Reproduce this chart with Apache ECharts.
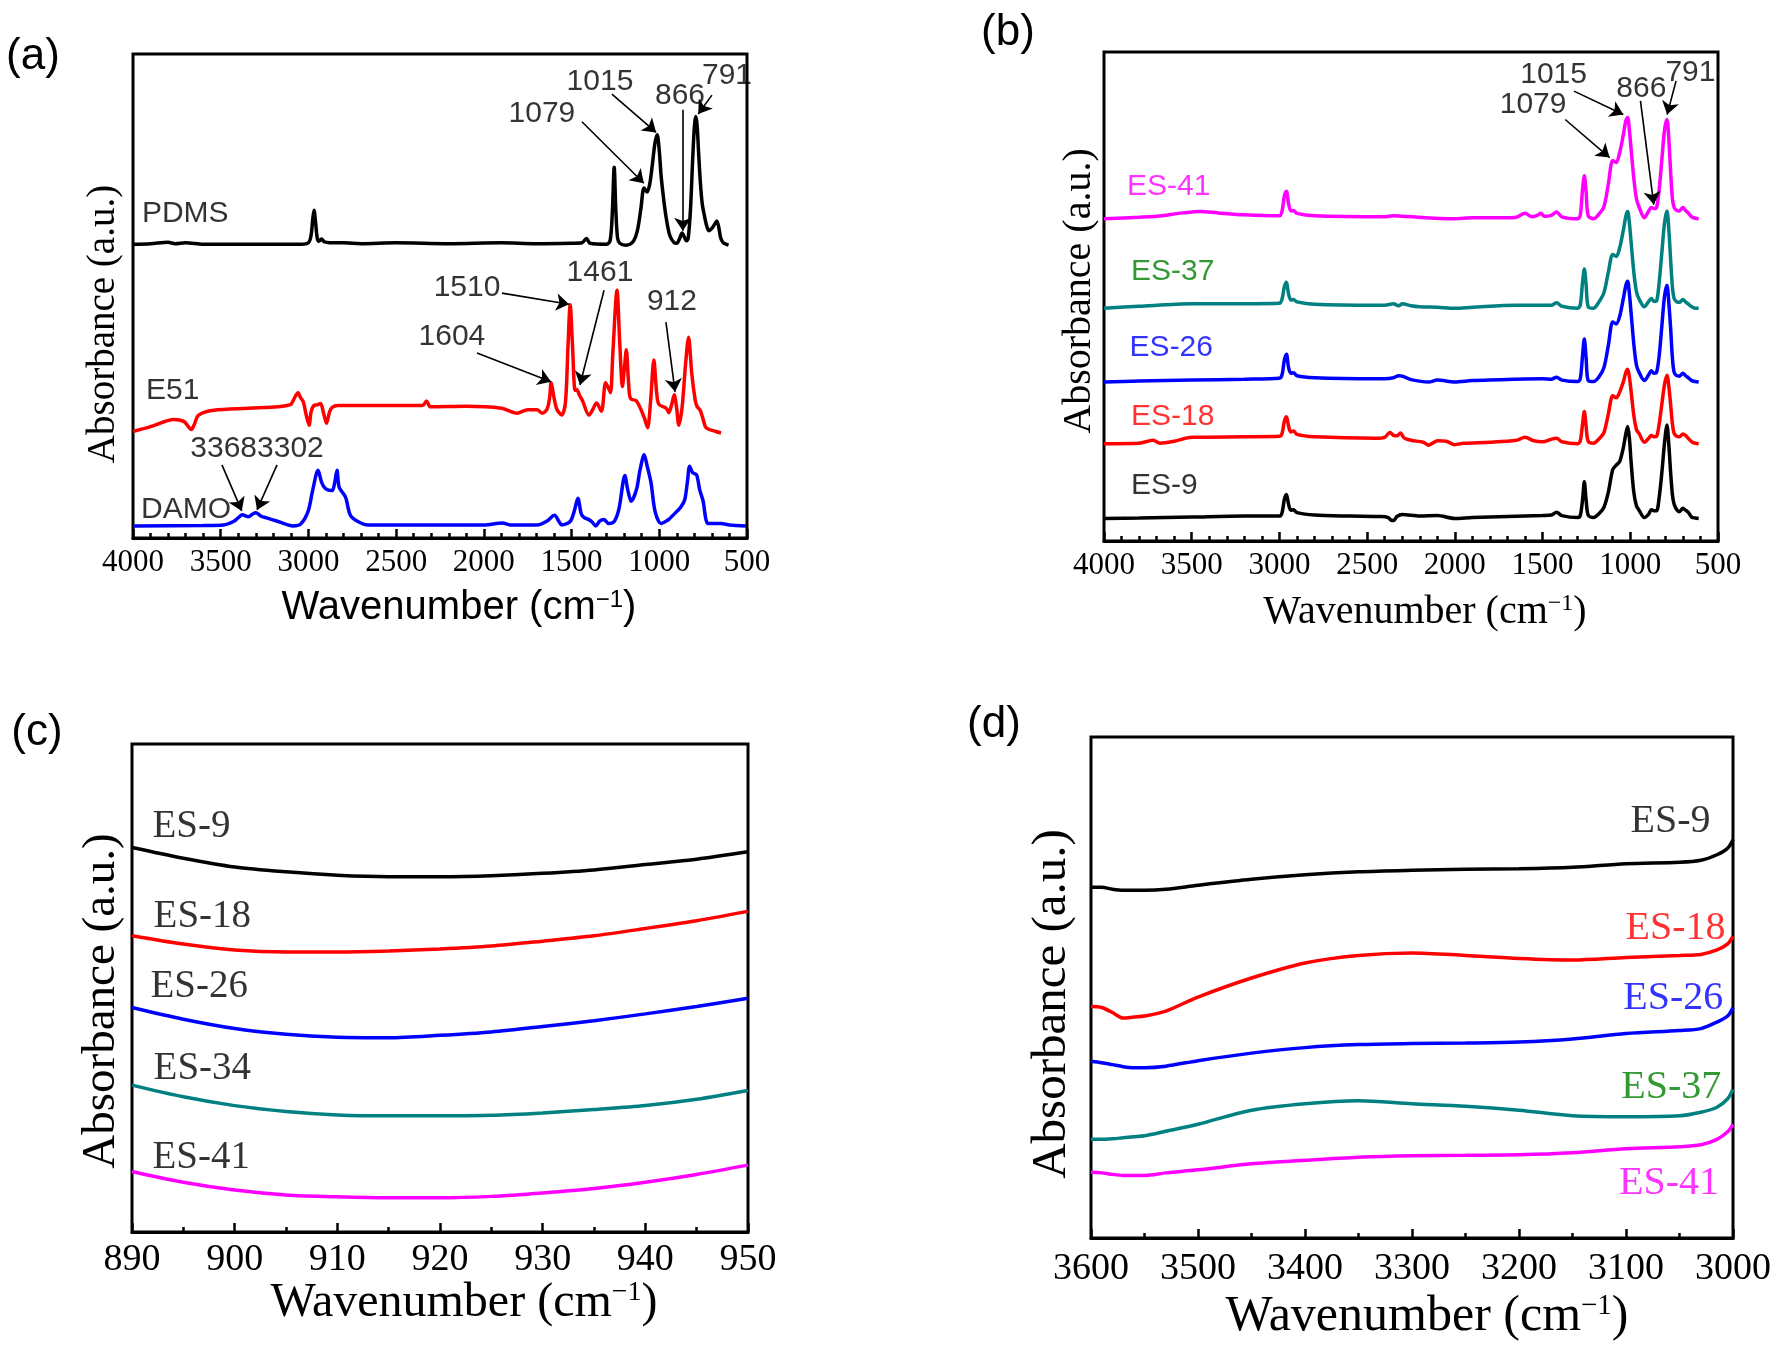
<!DOCTYPE html>
<html><head><meta charset="utf-8">
<script src="https://cdn.jsdelivr.net/npm/echarts/dist/echarts.min.js"></script>
<style>html,body{margin:0;padding:0;background:#fff}#chart{width:1780px;height:1347px}</style>
</head><body><div id="chart"></div>
<script>
// ---------------- DATA ----------------
// Panel (a): [wavenumber, absorbance a.u.]
const pdmsA = [[4000,60.7],[3900,60.8],[3800,61.1],[3760,60.8],[3700,61.0],[3600,60.7],[3300,60.7],[3040,60.7],[3000,61.0],[2985,62.5],[2975,66],[2968,67.7],[2960,65.5],[2950,62],[2940,61.3],[2925,61.8],[2910,61.2],[2880,61.0],[2800,61.0],[2700,60.8],[2500,61.0],[2200,60.8],[1900,61.0],[1700,60.8],[1500,60.9],[1440,61.0],[1415,61.9],[1395,60.9],[1300,60.7],[1280,61.5],[1268,67],[1257,76.6],[1248,68],[1238,62],[1225,60.9],[1190,60.5],[1150,61.2],[1125,63.5],[1105,68],[1087,72.3],[1070,71.5],[1055,73],[1040,77],[1025,81.5],[1012,83.3],[1000,80],[990,75],[975,70],[960,66],[940,62.5],[915,61],[900,60.9],[885,61.8],[870,63.0],[855,62],[845,61.4],[835,62],[822,68],[810,78],[800,85],[793,87.1],[785,85.5],[775,79],[765,73],[755,69],[745,67],[730,64.5],[718,63.5],[700,64],[685,64.8],[672,65.5],[660,64],[650,62],[635,61],[620,60.7],[605,60.5]];
const e51A = [[4000,22.0],[3900,23.0],[3767,24.5],[3711,24.1],[3680,22.8],[3668,22.4],[3650,23.5],[3626,25.4],[3540,26.4],[3342,26.8],[3172,27.1],[3100,27.6],[3087,28.4],[3059,30.0],[3045,29.0],[3030,28.2],[3010,25],[2996,23.3],[2985,26],[2968,27.4],[2950,27.5],[2931,27.8],[2915,26],[2897,23.7],[2880,26],[2865,27.0],[2831,27.4],[2500,27.4],[2349,27.4],[2327,28.3],[2304,27.1],[2100,27.2],[1900,26.8],[1811,25.8],[1750,26.5],[1697,26.5],[1668,25.8],[1640,26.6],[1625,29],[1617,32.1],[1600,29],[1584,26.6],[1556,25.4],[1535,28],[1520,40],[1508,48.2],[1495,40],[1480,30.5],[1471,30.7],[1455,29.5],[1437,28.3],[1401,25.4],[1380,26.5],[1358,27.9],[1330,26.2],[1306,32.1],[1290,31],[1278,30.0],[1265,38],[1241,51.2],[1225,40],[1210,31.3],[1199,35],[1188,38.9],[1175,32],[1164,28.8],[1130,28.3],[1087,25.0],[1067,22.8],[1050,28],[1031,36.8],[1015,30],[1002,27.6],[960,26.8],[946,25.9],[930,27.5],[915,29.6],[900,26.5],[889,23.3],[870,27],[850,36],[833,41.5],[815,34],[795,28.4],[785,27.2],[767,26.4],[750,24.5],[733,22.8],[677,22.0],[648,21.7]];
const damoA = [[4000,2.5],[3600,2.6],[3484,2.7],[3427,3.4],[3400,4.2],[3376,4.8],[3360,4.6],[3342,4.4],[3320,4.9],[3300,5.2],[3270,4.5],[3243,4.2],[3172,3.4],[3087,2.5],[3044,2.9],[3002,5.5],[2975,10],[2945,14.0],[2925,11.5],[2903,10.2],[2865,9.8],[2850,11.5],[2837,14.0],[2825,10.5],[2789,8.5],[2761,4.7],[2718,3.4],[2661,2.7],[2000,2.7],[1894,3.1],[1850,2.7],[1697,2.7],[1640,3.5],[1598,4.7],[1570,3.3],[1556,2.7],[1508,3.4],[1485,5.5],[1464,8.2],[1445,5.0],[1428,4.2],[1401,3.8],[1380,3.2],[1362,2.5],[1340,3.5],[1314,3.8],[1290,3.0],[1257,3.4],[1230,6],[1196,12.9],[1180,10],[1160,7.6],[1130,10],[1110,14],[1086,17.2],[1070,15],[1047,11.4],[1024,5.5],[990,3.0],[960,3.5],[947,3.8],[900,5.5],[877,6.4],[855,7.9],[840,11.5],[827,14.8],[810,13.5],[787,13.0],[770,10],[750,7.6],[735,4],[722,3.0],[648,3.0],[600,2.7],[506,2.5]];

// Panel (b)
const es9B = [[4000,4.6],[3800,4.7],[3500,4.9],[3200,5.1],[3000,5.1],[2985,5.8],[2972,8.5],[2960,9.5],[2948,7.5],[2935,6.3],[2920,6.4],[2900,5.8],[2800,5.3],[2600,5.1],[2420,5.0],[2380,4.8],[2360,4.2],[2345,4.3],[2330,5.0],[2300,5.4],[2200,5.1],[2100,5.2],[2000,4.6],[1900,4.8],[1700,5.0],[1500,5.2],[1450,5.3],[1420,5.9],[1390,5.2],[1300,4.8],[1285,5.2],[1272,8.5],[1262,12.1],[1252,8.5],[1240,5.3],[1210,4.8],[1180,5.5],[1150,6.9],[1125,10],[1100,14.6],[1080,15.5],[1060,16.3],[1040,19],[1025,22],[1015,23.4],[1005,21],[995,16],[980,10],[965,7.2],[950,6.3],[920,4.8],[895,5.5],[880,6.4],[865,6.2],[850,6.2],[835,9],[820,14],[805,20],[791,23.7],[780,19.5],[770,14.0],[760,9.5],[750,7.5],[735,6.4],[720,6.0],[700,6.7],[685,6.3],[670,5.9],[650,4.9],[630,4.7],[610,4.6]];
const es18B = [[4000,19.9],[3800,20.0],[3720,20.6],[3680,20.0],[3600,20.4],[3500,21.2],[3200,21.3],[3000,21.4],[2985,22],[2972,24.5],[2960,25.4],[2948,23.5],[2935,22.3],[2920,22.5],[2900,21.8],[2800,21.3],[2450,21.0],[2400,21.2],[2370,22.2],[2350,21.6],[2330,21.5],[2310,22.1],[2290,21.1],[2250,20.6],[2180,20.2],[2150,19.6],[2100,20.5],[2050,20.4],[2000,19.7],[1950,20.0],[1800,20.2],[1650,20.6],[1600,21.2],[1550,20.5],[1500,20.3],[1450,20.8],[1420,21.0],[1390,20.3],[1300,19.9],[1285,20.5],[1272,24],[1262,26.5],[1252,23.5],[1240,20.4],[1210,20.0],[1180,20.8],[1150,22.2],[1125,26],[1100,29.7],[1080,29.3],[1060,30.5],[1040,32.5],[1025,34.5],[1015,35.1],[1005,33.5],[995,30.5],[980,25.7],[965,22.8],[950,22.0],[920,20.2],[895,21.0],[880,21.6],[865,21.3],[850,21.4],[835,24],[820,28],[805,32],[791,33.9],[780,31.5],[770,27.9],[760,24],[750,22.0],[735,21.4],[720,21.3],[700,21.9],[685,21.6],[670,21.0],[650,20.3],[630,20.0],[610,19.9]];
const es26B = [[4000,32.5],[3800,32.7],[3500,32.9],[3200,33.1],[3000,33.3],[2985,34],[2972,37],[2960,38.2],[2948,35.5],[2935,34.3],[2920,34.4],[2900,33.8],[2800,33.4],[2450,33.2],[2400,33.2],[2350,33.4],[2320,33.8],[2300,33.7],[2250,33.0],[2150,32.5],[2100,32.9],[2000,32.5],[1900,32.8],[1650,33.1],[1500,33.2],[1450,33.1],[1420,33.5],[1390,32.9],[1300,32.6],[1285,33.2],[1272,38],[1262,41.3],[1252,37.5],[1240,32.8],[1210,32.6],[1180,33.5],[1150,35.5],[1125,40],[1100,44.8],[1080,44.4],[1060,46],[1040,49.5],[1025,52.3],[1015,53.1],[1005,50.5],[995,46.5],[980,40.3],[965,36],[950,34.5],[920,32.8],[895,34],[880,34.8],[865,34.3],[850,34.5],[835,38],[820,44],[805,50],[791,52.3],[780,48.5],[770,43.5],[760,37.5],[750,34.5],[735,33.8],[720,33.7],[700,34.3],[685,33.8],[670,33.4],[650,32.8],[630,32.6],[610,32.5]];
const es37B = [[4000,47.6],[3800,48.0],[3500,48.5],[3200,48.5],[3000,48.6],[2985,49.5],[2972,52],[2960,52.9],[2948,50.5],[2935,49.3],[2920,49.4],[2900,48.9],[2800,48.4],[2450,48.2],[2400,48.2],[2350,48.5],[2320,48.1],[2300,48.5],[2250,48.1],[2200,47.9],[2100,47.8],[2000,47.6],[1900,47.8],[1650,48.2],[1500,48.2],[1450,48.2],[1420,48.7],[1390,48.0],[1300,47.6],[1285,48.3],[1272,53],[1262,55.6],[1252,52.5],[1240,47.9],[1210,47.6],[1180,48.8],[1150,50.8],[1125,55],[1100,58.6],[1080,58.2],[1060,60],[1040,63.5],[1025,66.5],[1015,67.4],[1005,65],[995,61],[980,55],[965,51],[950,49.5],[920,47.9],[895,49],[880,49.6],[865,49.0],[850,49.1],[835,53],[820,59],[805,65],[791,67.5],[780,63.5],[770,57.5],[760,52],[750,49.6],[735,48.9],[720,48.8],[700,49.4],[685,48.9],[670,48.5],[650,47.9],[630,47.6],[610,47.6]];
const es41B = [[4000,65.9],[3800,66.2],[3700,66.4],[3550,67.1],[3450,67.4],[3350,67.1],[3200,66.7],[3000,66.5],[2985,67.5],[2972,70.5],[2960,71.5],[2948,69],[2935,67.5],[2920,67.6],[2900,67.0],[2800,66.5],[2400,66.3],[2350,66.5],[2300,66.4],[2000,65.9],[1900,66.1],[1700,66.1],[1650,66.2],[1600,67.0],[1560,66.3],[1530,66.6],[1510,67.0],[1490,66.4],[1450,66.6],[1420,67.3],[1390,66.3],[1300,65.9],[1285,66.6],[1272,72],[1262,74.7],[1252,71.5],[1240,66.5],[1210,65.9],[1180,66.8],[1150,68.4],[1125,73],[1100,77.8],[1080,77.4],[1060,79.5],[1040,83],[1025,86],[1015,86.6],[1005,84],[995,80],[980,74.2],[965,70],[950,68.3],[920,66.1],[895,67.5],[880,68.2],[865,68.0],[850,68.2],[835,72],[820,78],[805,84],[791,86.2],[780,82],[770,75.5],[760,70],[750,68.2],[735,67.6],[720,67.5],[700,68.2],[685,67.6],[670,67.1],[650,66.3],[630,66.0],[610,65.9]];

// Panel (c)
const wnC = [890,895,900,905,910,915,920,925,930,935,940,945,950];
const es9C  = [78.8,76.6,74.8,73.8,73.1,72.8,72.8,73.0,73.5,74.2,75.3,76.4,77.9];
const es18C = [60.7,59.0,57.8,57.4,57.4,57.6,58.0,58.6,59.6,60.7,62.2,63.8,65.7];
const es26C = [46.0,43.6,41.7,40.5,39.9,39.8,40.3,41.0,42.1,43.3,44.7,46.2,47.9];
const es34C = [30.1,27.7,25.9,24.7,24.0,23.8,23.8,23.9,24.4,25.1,25.9,27.2,29.0];
const es41C = [12.4,10.2,8.6,7.6,7.2,7.0,7.0,7.3,8.0,8.9,10.2,11.8,13.7];

// Panel (d)
const wnD = [3600,3590,3580,3570,3560,3550,3530,3500,3450,3400,3350,3300,3250,3200,3150,3100,3050,3030,3015,3005,3000];
const es9D  = [70.0,70.0,69.6,69.4,69.4,69.4,69.6,70.4,71.6,72.5,73.1,73.4,73.6,73.7,74.0,74.7,75.0,75.4,76.5,77.8,79.5];
const es18D = [46.2,46.0,45.0,43.9,44.1,44.3,45.3,48.1,51.9,54.9,56.4,56.9,56.4,55.8,55.5,56.0,56.4,56.6,57.5,58.7,60.2];
const es26D = [35.3,35.0,34.6,34.2,34.0,34.0,34.3,35.4,36.9,38.0,38.6,38.8,38.9,39.1,39.7,40.8,41.4,41.8,43.1,44.3,46.0];
const es37D = [19.7,19.7,19.8,20.0,20.2,20.4,21.3,22.7,25.5,26.8,27.4,26.8,26.3,25.5,24.4,24.2,24.4,25.1,26.1,27.8,29.7];
const es41D = [13.1,13.0,12.7,12.5,12.5,12.5,13.0,13.6,14.8,15.5,16.1,16.4,16.5,16.6,17.0,17.8,18.2,18.6,19.7,21.2,22.7];

// Text annotations [text, wavenumber, absorbance]
const namesA = [['PDMS',3949,66.9],['E51',3926,30.5],['DAMO',3954,5.9]];
const peaksA = [['1015',1338,94.2],['1079',1669,87.6],['866',882,91.3],['791',614,95.5],['1510',2096,51.7],['1461',1338,54.8],['1604',2182,41.5],['912',928,48.8],['33683302',3293,18.4]];
const arrowsA = [[1270,91.7,1018,83.8],[1441,86,1088,73.3],[866,88.5,866,63.5],[700,91.5,778,87.6],[1897,50.6,1514,48.3],[1315,51.2,1452,31.6],[2039,38.2,1617,32.3],[962,44.6,910,30.2],[3493,15.1,3380,5.6],[3179,15.1,3293,5.8]];
const namesB = [['ES-41',3869,72.4],['ES-37',3846,55.0],['ES-26',3854,39.6],['ES-18',3846,25.5],['ES-9',3846,11.3]];
const peaksB = [['1015',1437,95.4],['1079',1554,89.3],['866',937,92.5],['791',657,95.8]];
const arrowsB = [[1321,92,1040,87.2],[1371,86.2,1118,78.4],[942,90,866,68.8],[739,94.1,790,87.2]];
const namesC = [['ES-9',892.0,83.1],['ES-18',892.1,64.6],['ES-26',891.8,50.2],['ES-34',892.1,33.4],['ES-41',892.0,15.3]];
const namesD = [['ES-9',3021,83.1],['ES-18',3007,61.7],['ES-26',3009,47.9],['ES-37',3011,30.1],['ES-41',3013,10.8]];

// ---------------- STYLE ----------------
const SANS = '"Liberation Sans", Arial, sans-serif';
const SERIF = '"Liberation Serif", "Times New Roman", serif';
const BLACK='#000000', RED='#ff0000', BLUE='#0000ff', TEAL='#008080', MAG='#ff00ff', GREEN='#008000';

const grids = [
  {left:133, top:54, width:614, height:484},
  {left:1104, top:52, width:614, height:489},
  {left:132, top:744, width:616, height:488},
  {left:1091, top:737, width:642, height:501}
].map(g => Object.assign(g, {show:true, borderColor:'#000', borderWidth:3, backgroundColor:'transparent', containLabel:false}));

function xAx(gi, min, max, interval, split, fontSize, margin, inverse) {
  return {gridIndex:gi, type:'value', min, max, interval, inverse,
    axisLine:{show:true, onZero:false, lineStyle:{color:'#000', width:3}},
    axisTick:{show:true, inside:true, length:9, lineStyle:{color:'#000', width:2.5}},
    minorTick:{show:true, splitNumber:split, length:5, lineStyle:{color:'#000', width:2.5}},
    splitLine:{show:false}, minorSplitLine:{show:false},
    axisLabel:{color:'#000', fontFamily:SERIF, fontSize, margin, showMinLabel:true, showMaxLabel:true, formatter: v => String(v)}
  };
}
function yAx(gi) {
  return {gridIndex:gi, type:'value', min:0, max:100, axisLine:{show:false}, axisTick:{show:false}, axisLabel:{show:false}, splitLine:{show:false}};
}
function line(gi, name, data, color) {
  return {type:'line', name, xAxisIndex:gi, yAxisIndex:gi, data, symbol:'none', showSymbol:false,
    smooth:0.3, lineStyle:{color, width:3.5}, itemStyle:{color}, animation:false, silent:true, z:3};
}
function zip(xs, ys) { return xs.map((x,i)=>[x, ys[i]]); }
function texts(gi, items, font, size, colors, align, arrows) {
  const s = {type:'scatter', xAxisIndex:gi, yAxisIndex:gi, symbolSize:0, silent:true, animation:false, z:10,
    itemStyle:{color:'transparent'},
    data: items.map((it, i) => ({value:[it[1], it[2]], label:{show:true, formatter:it[0], position:'inside',
      align, verticalAlign:'middle', color: colors ? colors[i] : '#000', fontFamily:font, fontSize:size}}))};
  if (arrows) {
    s.markLine = {silent:true, animation:false, symbol:['none','arrow'], symbolSize:13,
      lineStyle:{color:'#000', width:1.6, type:'solid'}, label:{show:false},
      data: arrows.map(a => [{coord:[a[0],a[1]], symbol:'none'},{coord:[a[2],a[3]], symbol:'arrow', symbolSize:13}])};
  }
  return s;
}
function xTitle(x, y, font, size, supSize) {
  return {type:'text', x, y, z:20, style:{text:'{n|Wavenumber (cm}{s|−1}{n|)}', textAlign:'center', textVerticalAlign:'middle',
    rich:{n:{fontFamily:font, fontSize:size, fill:'#000', color:'#000'}, s:{fontFamily:font, fontSize:supSize, verticalAlign:'top', fill:'#000', color:'#000'}}}};
}
function yTitle(x, y, size) {
  return {type:'text', x, y, rotation:Math.PI/2, z:20, style:{text:'Absorbance (a.u.)', font:size+'px '+SERIF, fill:'#000', textAlign:'center', textVerticalAlign:'middle'}};
}
function panelLabel(x, y, t) {
  return {type:'text', x, y, z:20, style:{text:t, font:'44px '+SANS, fill:'#000', textAlign:'center', textVerticalAlign:'middle'}};
}

const option = {
  backgroundColor:'#fff',
  animation:false,
  grid: grids,
  xAxis: [xAx(0,500,4000,500,5,31,9,true), xAx(1,500,4000,500,5,31,9,true), xAx(2,890,950,10,2,38,9,false), xAx(3,3000,3600,100,2,38,12,true)],
  yAxis: [yAx(0), yAx(1), yAx(2), yAx(3)],
  series: [
    line(0,'PDMS',pdmsA,BLACK), line(0,'E51',e51A,RED), line(0,'DAMO',damoA,BLUE),
    texts(0, namesA, SANS, 30, null, 'left'),
    texts(0, peaksA, SANS, 30, null, 'center', arrowsA),
    line(1,'ES-9',es9B,BLACK), line(1,'ES-18',es18B,RED), line(1,'ES-26',es26B,BLUE), line(1,'ES-37',es37B,TEAL), line(1,'ES-41',es41B,MAG),
    texts(1, namesB, SANS, 30, [MAG,GREEN,BLUE,RED,BLACK], 'left'),
    texts(1, peaksB, SANS, 30, null, 'center', arrowsB),
    line(2,'ES-9',zip(wnC,es9C),BLACK), line(2,'ES-18',zip(wnC,es18C),RED), line(2,'ES-26',zip(wnC,es26C),BLUE), line(2,'ES-34',zip(wnC,es34C),TEAL), line(2,'ES-41',zip(wnC,es41C),MAG),
    texts(2, namesC, SERIF, 39, null, 'left'),
    line(3,'ES-9',zip(wnD,es9D),BLACK), line(3,'ES-18',zip(wnD,es18D),RED), line(3,'ES-26',zip(wnD,es26D),BLUE), line(3,'ES-37',zip(wnD,es37D),TEAL), line(3,'ES-41',zip(wnD,es41D),MAG),
    texts(3, namesD, SERIF, 40, [BLACK,RED,BLUE,GREEN,MAG], 'right')
  ],
  graphic: [
    panelLabel(33,57,'(a)'), panelLabel(1008,33,'(b)'), panelLabel(37,733,'(c)'), panelLabel(994,725,'(d)'),
    xTitle(459,608,SANS,40,24), xTitle(1425,612,SERIF,40,24), xTitle(464,1303,SERIF,48,28), xTitle(1427,1317,SERIF,50,29),
    yTitle(104,324,39), yTitle(1079,291,40), yTitle(102,1001,47), yTitle(1052,1004,49)
  ]
};
const chart = echarts.init(document.getElementById('chart'), null, {renderer:'canvas'});
chart.setOption(option);
</script></body></html>
